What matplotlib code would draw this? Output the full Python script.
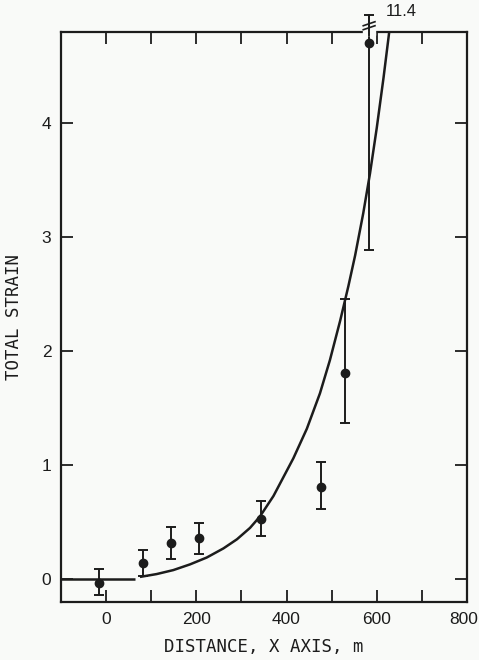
import numpy as np
import matplotlib.pyplot as plt
import matplotlib.transforms as mtransforms
from matplotlib.ticker import FixedLocator

# ---- data ----
dist = [-15, 82, 144, 206, 343, 476, 530, 583]
strain = [-0.03, 0.14, 0.32, 0.36, 0.53, 0.81, 1.81, 4.70]
strain_low = [-0.14, 0.03, 0.18, 0.22, 0.38, 0.62, 1.37, 2.89]
strain_high = [0.09, 0.26, 0.46, 0.49, 0.69, 1.03, 2.46, 11.4]

# model curve (flat part and rising part, drawn as two strokes)
flat_x = [-100, 0, 64]
flat_y = [0.0, 0.0, 0.0]
curve_x = [75, 112, 149, 186, 223, 260, 290, 319, 341, 371, 415, 445,
           474, 496, 519, 537, 552, 570, 585, 600, 615, 626, 640]
curve_y = [0.02, 0.045, 0.08, 0.13, 0.19, 0.27, 0.35, 0.45, 0.55, 0.73,
           1.06, 1.32, 1.63, 1.92, 2.27, 2.57, 2.84, 3.21, 3.56, 3.96,
           4.40, 4.75, 5.20]

x_ticklabels = ["0", "200", "400", "600", "800"]
y_ticklabels = ["0", "1", "2", "3", "4"]

INK = "#1c1c1c"
BG = "#f9faf8"
tick_font = ["Liberation Sans", "DejaVu Sans"]
label_font = ["DejaVu Sans Mono"]

fig = plt.figure(figsize=(4.79, 6.60), dpi=100, facecolor=BG)
ax = fig.add_axes([61 / 479, 1 - 602 / 660, (467 - 61) / 479, (602 - 32) / 660])
ax.set_facecolor(BG)

ax.set_xlim(-100, 800)
ax.set_ylim(-0.2, 4.8)

# curve
ax.plot(flat_x, flat_y, color=INK, lw=1.8, solid_capstyle="butt", zorder=3)
ax.plot(curve_x, curve_y, color=INK, lw=1.8, solid_capstyle="butt",
        solid_joinstyle="round", zorder=3)

# error bars (upper end of last point runs past the frame and is broken)
top_cap = 4.95
strain_arr = np.array(strain)
low = strain_arr - np.array(strain_low)
high = np.minimum(np.array(strain_high), top_cap) - strain_arr
eb = ax.errorbar(dist, strain, yerr=[low, high], fmt="o", color=INK,
                 ms=6, elinewidth=1.4, capsize=3.3, capthick=1.4, zorder=4)
for artist in eb.lines[1] + eb.lines[2] + (eb.lines[0],):
    artist.set_clip_on(False)

# break marker on the off-scale bar, over the top spine
bx = dist[-1]
ax.add_patch(plt.Rectangle((bx - 14, 4.77), 28, 0.075, color=BG,
                           clip_on=False, zorder=6))
ax.plot([bx - 13, bx + 13], [4.855, 4.89], color=INK, lw=1.2,
        clip_on=False, zorder=7)
ax.plot([bx - 13, bx + 13], [4.82, 4.855], color=INK, lw=1.2,
        clip_on=False, zorder=7)
ax.plot([bx, bx], [4.77, 4.95], color=INK, lw=1.4, clip_on=False, zorder=7)
ax.text(bx + 36, top_cap + 0.03, f"{strain_high[-1]:.1f}", fontsize=12,
        family=tick_font, color=INK, ha="left", va="center")

# ticks
ax.xaxis.set_major_locator(FixedLocator([0, 200, 400, 600, 800]))
ax.xaxis.set_minor_locator(FixedLocator([100, 300, 500, 700]))
ax.set_xticklabels(x_ticklabels)
ax.yaxis.set_major_locator(FixedLocator([0, 1, 2, 3, 4]))
ax.set_yticklabels(y_ticklabels)
ax.tick_params(axis="both", which="both", direction="in", top=True,
               right=True, length=8.5, width=1.3, color=INK,
               labelcolor=INK, labelsize=12.5)
ax.tick_params(axis="x", which="major", pad=7)
ax.tick_params(axis="y", which="major", pad=7)
for lab in ax.get_xticklabels() + ax.get_yticklabels():
    lab.set_family(tick_font)

# keep the last x label inside the canvas
last = ax.get_xticklabels()[-1]
last.set_transform(last.get_transform() +
                   mtransforms.ScaledTranslation(-3 / 100, 0, fig.dpi_scale_trans))

for sp in ax.spines.values():
    sp.set_linewidth(1.6)
    sp.set_color(INK)

ax.set_xlabel("DISTANCE, X AXIS, m", family=label_font, fontsize=12.5,
              color=INK, labelpad=8)
ax.set_ylabel("TOTAL STRAIN", family=label_font, fontsize=12.5,
              color=INK, labelpad=13)

fig.savefig("out.png", dpi=100, facecolor=BG)
